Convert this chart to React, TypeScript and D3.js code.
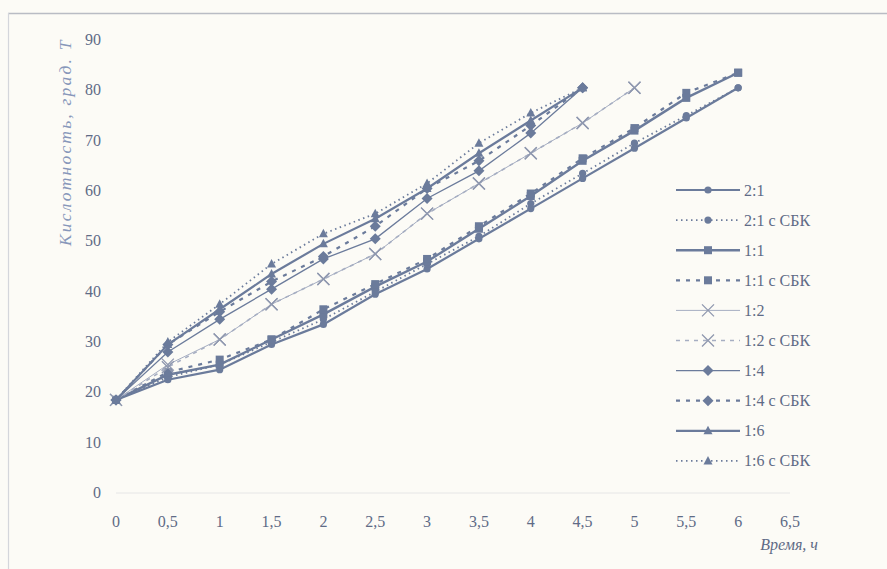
import React from "react";
import * as d3 from "d3";

const timesLong = [0, 0.5, 1, 1.5, 2, 2.5, 3, 3.5, 4, 4.5, 5, 5.5, 6];
const timesMid = [0, 0.5, 1, 1.5, 2, 2.5, 3, 3.5, 4, 4.5, 5];
const timesShort = [0, 0.5, 1, 1.5, 2, 2.5, 3, 3.5, 4, 4.5];

const s21 = [18.5, 22.5, 24.5, 29.5, 33.5, 39.5, 44.5, 50.5, 56.5, 62.5, 68.5, 74.5, 80.5];
const s21sbk = [18.5, 23, 25.5, 30, 34.5, 40, 45.5, 51, 57.5, 63.5, 69.5, 75, 80.5];
const s11 = [18.5, 23.5, 25.5, 30.5, 35.5, 41, 46, 52.5, 59, 66, 72, 78.5, 83.5];
const s11sbk = [18.5, 24, 26.5, 30.5, 36.5, 41.5, 46.5, 53, 59.5, 66.5, 72.5, 79.5, 83.5];
const s12 = [18.5, 25.5, 30.5, 37.5, 42.5, 47.5, 55.5, 61.5, 67.5, 73.5, 80.5];
const s12sbk = [18.5, 25, 30.5, 37.5, 42.5, 47.5, 55.5, 61.5, 67.5, 73.5, 80.5];
const s14 = [18.5, 28, 34.5, 40.5, 46.5, 50.5, 58.5, 64, 71.5, 80.5];
const s14sbk = [18.5, 29.5, 36, 42, 47, 53, 60.5, 66, 73, 80.5];
const s16 = [18.5, 29.5, 36.5, 43.5, 49.5, 54.5, 60.5, 67.5, 74, 80.5];
const s16sbk = [18.5, 30, 37.5, 45.5, 51.5, 55.5, 61.5, 69.5, 75.5, 80.5];

const xTicks = [0, 0.5, 1, 1.5, 2, 2.5, 3, 3.5, 4, 4.5, 5, 5.5, 6, 6.5];
const yTicks = [0, 10, 20, 30, 40, 50, 60, 70, 80, 90];

const DARK = "#6b7b9b";
const LIGHT = "#a6aec2";

type Marker = "circle" | "square" | "x" | "diamond" | "triangle";
interface Series {
  name: string;
  xs: number[];
  ys: number[];
  color: string;
  width: number;
  dash: string;
  marker: Marker;
}

const series: Series[] = [
  { name: "2:1", xs: timesLong, ys: s21, color: DARK, width: 2.2, dash: "", marker: "circle" },
  { name: "2:1 с СБК", xs: timesLong, ys: s21sbk, color: DARK, width: 1.8, dash: "1.5 3.5", marker: "circle" },
  { name: "1:1", xs: timesLong, ys: s11, color: DARK, width: 2.4, dash: "", marker: "square" },
  { name: "1:1 с СБК", xs: timesLong, ys: s11sbk, color: DARK, width: 2.2, dash: "4 6", marker: "square" },
  { name: "1:2", xs: timesMid, ys: s12, color: LIGHT, width: 1, dash: "", marker: "x" },
  { name: "1:2 с СБК", xs: timesMid, ys: s12sbk, color: LIGHT, width: 1.6, dash: "4 5", marker: "x" },
  { name: "1:4", xs: timesShort, ys: s14, color: DARK, width: 1.3, dash: "", marker: "diamond" },
  { name: "1:4 с СБК", xs: timesShort, ys: s14sbk, color: DARK, width: 2.2, dash: "4 6", marker: "diamond" },
  { name: "1:6", xs: timesShort, ys: s16, color: DARK, width: 2.2, dash: "", marker: "triangle" },
  { name: "1:6 с СБК", xs: timesShort, ys: s16sbk, color: DARK, width: 1.8, dash: "1.5 3.5", marker: "triangle" },
];

function MarkerShape({ m, x, y, color }: { m: Marker; x: number; y: number; color: string }) {
  if (m === "circle") return <circle cx={x} cy={y} r={3.6} fill={color} />;
  if (m === "square") return <rect x={x - 4} y={y - 4} width={8} height={8} fill={color} />;
  if (m === "diamond") return <path d={`M${x},${y - 5.5}L${x + 5.5},${y}L${x},${y + 5.5}L${x - 5.5},${y}Z`} fill={color} />;
  if (m === "triangle") return <path d={`M${x},${y - 5}L${x + 4.5},${y + 3.5}L${x - 4.5},${y + 3.5}Z`} fill={color} />;
  return (
    <path d={`M${x - 6},${y - 6}L${x + 6},${y + 6}M${x - 6},${y + 6}L${x + 6},${y - 6}`} stroke={"#8f98af"} strokeWidth={1.3} fill="none" />
  );
}

export default function App() {
  const x = d3.scaleLinear().domain([0, 6.5]).range([116, 790]);
  const y = d3.scaleLinear().domain([0, 90]).range([493, 40]);
  const textColor = "#5f6b86";
  const font = "'Liberation Serif', 'Times New Roman', serif";

  const legendX0 = 676;
  const legendY0 = 190;
  const legendStep = 30.1;

  return (
    <div style={{ position: "absolute", left: 0, top: 0 }}>
      <svg width={887} height={569} style={{ display: "block", background: "#fcfbf6" }}>
        <rect x={0} y={0} width={887} height={569} fill="#fcfbf6" />
        <line x1={8} y1={13.5} x2={887} y2={13.5} stroke="#b9bcc4" strokeWidth={1.5} />
        <line x1={8.5} y1={13} x2={8.5} y2={569} stroke="#d4d6db" strokeWidth={1.2} />
        <line x1={x(0)} x2={x(6.5)} y1={y(0)} y2={y(0)} stroke="#e6e6e6" strokeWidth={1} />

        {yTicks.map((t) => (
          <text key={"y" + t} x={101} y={y(t) + 5} textAnchor="end" fontFamily={font} fontSize={16} fill={textColor}>
            {t}
          </text>
        ))}
        {xTicks.map((t) => (
          <text key={"x" + t} x={x(t)} y={527} textAnchor="middle" fontFamily={font} fontSize={16} fill={textColor}>
            {String(t).replace(".", ",")}
          </text>
        ))}
        <text
          transform={`translate(71,246) rotate(-90)`}
          fontFamily={font}
          fontStyle="italic"
          fontSize={17.5}
          letterSpacing={2.2}
          fill="#8797ba"
        >
          Кислотность, град. Т
        </text>
        <text x={818} y={550} textAnchor="end" fontFamily={font} fontStyle="italic" fontSize={16} fill={textColor}>
          Время, ч
        </text>

        {series.map((s) => {
          const pts: [number, number][] = s.xs.map((t, i) => [x(t), y(s.ys[i])]);
          const line = d3.line();
          return (
            <g key={s.name}>
              <path d={line(pts) || ""} fill="none" stroke={s.color} strokeWidth={s.width} strokeDasharray={s.dash || undefined} />
              {pts.map((p, i) => (
                <MarkerShape key={i} m={s.marker} x={p[0]} y={p[1]} color={s.color} />
              ))}
            </g>
          );
        })}

        {series.map((s, i) => {
          const ly = legendY0 + i * legendStep;
          return (
            <g key={"lg" + s.name}>
              <line x1={legendX0} x2={legendX0 + 64} y1={ly} y2={ly} stroke={s.color} strokeWidth={s.width} strokeDasharray={s.dash || undefined} />
              <MarkerShape m={s.marker} x={legendX0 + 32} y={ly} color={s.color} />
              <text x={legendX0 + 68} y={ly + 5.5} fontFamily={font} fontSize={16} fill={textColor}>
                {s.name}
              </text>
            </g>
          );
        })}
      </svg>
    </div>
  );
}
